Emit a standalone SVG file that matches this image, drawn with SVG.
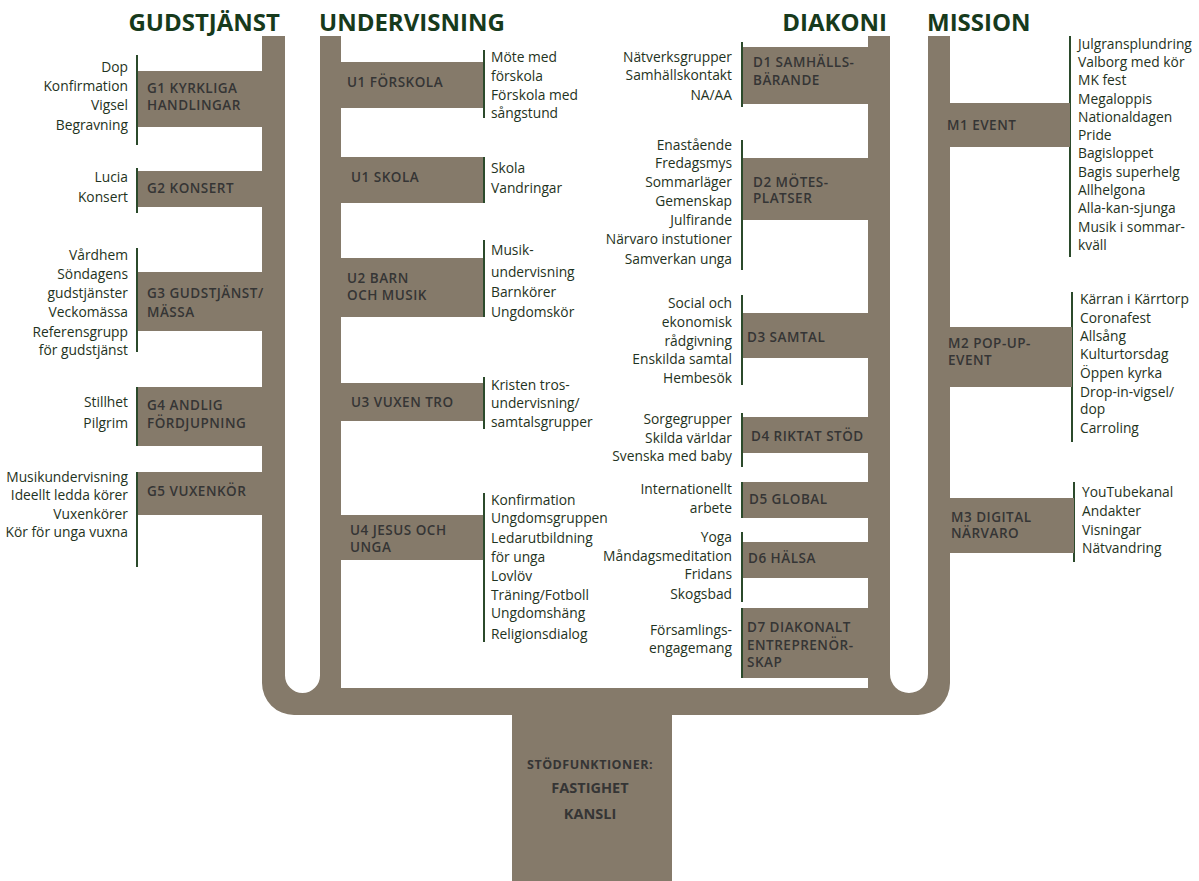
<svg xmlns="http://www.w3.org/2000/svg" width="1199" height="881" viewBox="0 0 1199 881">
<style>
.sh{fill:#857a6a}
.t{font-family:"Open Sans","Noto Sans",sans-serif;font-size:13.8px;fill:#1f3322}
.e{text-anchor:end}
.lb{font-family:"Open Sans","Noto Sans",sans-serif;font-size:13.5px;font-weight:600;fill:#353535;letter-spacing:0.5px}
.h{font-family:"Open Sans","Noto Sans",sans-serif;font-size:24px;font-weight:700;fill:#173a1c}
.ln{stroke:#2b4a2b;stroke-width:2;fill:none}
.st{font-family:"Open Sans","Noto Sans",sans-serif;font-weight:700;fill:#353535;text-anchor:middle}
</style>
<rect width="1199" height="881" fill="#fff"/>
<g id="trunk">
<path class="sh" d="M262,36 H285 V675.5 A17.5,17.5 0 0 0 320,675.5 V36 H341 V688 H868 V36 H890 V674 A19,19 0 0 0 928,674 V36 H950 V683 A32,32 0 0 1 918,715 H294 A32,32 0 0 1 262,683 Z"/>
<rect class="sh" x="512" y="712" width="160" height="169"/>
</g>
<g id="titles">
<text class="h" x="280" y="31" text-anchor="end">GUDSTJÄNST</text>
<text class="h" x="319" y="31">UNDERVISNING</text>
<text class="h" x="887" y="31" text-anchor="end">DIAKONI</text>
<text class="h" x="927" y="31">MISSION</text>
</g>
<g id="support">
<text class="st" x="590" y="769" style="font-size:12.5px;letter-spacing:0.5px">STÖDFUNKTIONER:</text>
<text class="st" x="590" y="793" style="font-size:14.5px">FASTIGHET</text>
<text class="st" x="590" y="819" style="font-size:14.5px">KANSLI</text>
</g>
<g id="connectors">
<line class="ln" x1="137" y1="55" x2="137" y2="145"/>
<line class="ln" x1="137" y1="168" x2="137" y2="213"/>
<line class="ln" x1="137" y1="248" x2="137" y2="352"/>
<line class="ln" x1="137" y1="387" x2="137" y2="446"/>
<line class="ln" x1="137" y1="472" x2="137" y2="567"/>
<line class="ln" x1="484" y1="50" x2="484" y2="118"/>
<line class="ln" x1="484" y1="157" x2="484" y2="203"/>
<line class="ln" x1="484" y1="240" x2="484" y2="317"/>
<line class="ln" x1="484" y1="377" x2="484" y2="429"/>
<line class="ln" x1="484" y1="493" x2="484" y2="642"/>
<line class="ln" x1="742" y1="42" x2="742" y2="107"/>
<line class="ln" x1="742" y1="140" x2="742" y2="270"/>
<line class="ln" x1="742" y1="295" x2="742" y2="385"/>
<line class="ln" x1="742" y1="413" x2="742" y2="467"/>
<line class="ln" x1="742" y1="482" x2="742" y2="518"/>
<line class="ln" x1="742" y1="532" x2="742" y2="602"/>
<line class="ln" x1="742" y1="608" x2="742" y2="678"/>
<line class="ln" x1="1070" y1="36" x2="1070" y2="257"/>
<line class="ln" x1="1072" y1="292" x2="1072" y2="442"/>
<line class="ln" x1="1074" y1="482" x2="1074" y2="562"/>
</g>
<g id="G1">
<rect class="sh" x="138" y="71" width="125" height="56"/>
<text class="lb" x="147" y="93">G1 KYRKLIGA</text>
<text class="lb" x="147" y="110">HANDLINGAR</text>
<text class="t e" x="128" y="72">Dop</text>
<text class="t e" x="128" y="91">Konfirmation</text>
<text class="t e" x="128" y="110">Vigsel</text>
<text class="t e" x="128" y="130">Begravning</text>
</g>
<g id="G2">
<rect class="sh" x="138" y="171" width="125" height="36"/>
<text class="lb" x="147" y="193">G2 KONSERT</text>
<text class="t e" x="128" y="182">Lucia</text>
<text class="t e" x="128" y="202">Konsert</text>
</g>
<g id="G3">
<rect class="sh" x="138" y="272" width="125" height="59"/>
<text class="lb" x="147" y="298">G3 GUDSTJÄNST/</text>
<text class="lb" x="147" y="317">MÄSSA</text>
<text class="t e" x="128" y="260">Vårdhem</text>
<text class="t e" x="128" y="279">Söndagens</text>
<text class="t e" x="128" y="298">gudstjänster</text>
<text class="t e" x="128" y="317">Veckomässa</text>
<text class="t e" x="128" y="337">Referensgrupp</text>
<text class="t e" x="128" y="355">för gudstjänst</text>
</g>
<g id="G4">
<rect class="sh" x="138" y="387" width="125" height="59"/>
<text class="lb" x="147" y="410">G4 ANDLIG</text>
<text class="lb" x="147" y="428">FÖRDJUPNING</text>
<text class="t e" x="128" y="407">Stillhet</text>
<text class="t e" x="128" y="428">Pilgrim</text>
</g>
<g id="G5">
<rect class="sh" x="138" y="472" width="125" height="43"/>
<text class="lb" x="147" y="496">G5 VUXENKÖR</text>
<text class="t e" x="128" y="482">Musikundervisning</text>
<text class="t e" x="128" y="500">Ideellt ledda körer</text>
<text class="t e" x="128" y="519">Vuxenkörer</text>
<text class="t e" x="128" y="537">Kör för unga vuxna</text>
</g>
<g id="U1F">
<rect class="sh" x="340" y="62" width="143" height="46"/>
<text class="lb" x="347" y="87">U1 FÖRSKOLA</text>
<text class="t" x="491" y="62">Möte med</text>
<text class="t" x="491" y="81">förskola</text>
<text class="t" x="491" y="100">Förskola med</text>
<text class="t" x="491" y="118">sångstund</text>
</g>
<g id="U1S">
<rect class="sh" x="340" y="157" width="143" height="46"/>
<text class="lb" x="351" y="182">U1 SKOLA</text>
<text class="t" x="491" y="173">Skola</text>
<text class="t" x="491" y="193">Vandringar</text>
</g>
<g id="U2">
<rect class="sh" x="340" y="258" width="143" height="59"/>
<text class="lb" x="347" y="283">U2 BARN</text>
<text class="lb" x="347" y="300">OCH MUSIK</text>
<text class="t" x="491" y="255">Musik-</text>
<text class="t" x="491" y="277">undervisning</text>
<text class="t" x="491" y="297">Barnkörer</text>
<text class="t" x="491" y="317">Ungdomskör</text>
</g>
<g id="U3">
<rect class="sh" x="340" y="383" width="143" height="38"/>
<text class="lb" x="351" y="407">U3 VUXEN TRO</text>
<text class="t" x="491" y="390">Kristen tros-</text>
<text class="t" x="491" y="408">undervisning/</text>
<text class="t" x="491" y="427">samtalsgrupper</text>
</g>
<g id="U4">
<rect class="sh" x="340" y="515" width="143" height="45"/>
<text class="lb" x="350" y="535">U4 JESUS OCH</text>
<text class="lb" x="350" y="552">UNGA</text>
<text class="t" x="491" y="505">Konfirmation</text>
<text class="t" x="491" y="523">Ungdomsgruppen</text>
<text class="t" x="491" y="543">Ledarutbildning</text>
<text class="t" x="491" y="562">för unga</text>
<text class="t" x="491" y="581">Lovlöv</text>
<text class="t" x="491" y="600">Träning/Fotboll</text>
<text class="t" x="491" y="618">Ungdomshäng</text>
<text class="t" x="491" y="639">Religionsdialog</text>
</g>
<g id="D1">
<rect class="sh" x="743" y="47" width="126" height="57"/>
<text class="lb" x="753" y="67">D1 SAMHÄLLS-</text>
<text class="lb" x="753" y="85">BÄRANDE</text>
<text class="t e" x="732" y="62">Nätverksgrupper</text>
<text class="t e" x="732" y="80">Samhällskontakt</text>
<text class="t e" x="732" y="100">NA/AA</text>
</g>
<g id="D2">
<rect class="sh" x="743" y="158" width="126" height="62"/>
<text class="lb" x="753" y="187">D2 MÖTES-</text>
<text class="lb" x="753" y="203">PLATSER</text>
<text class="t e" x="732" y="150">Enastående</text>
<text class="t e" x="732" y="168">Fredagsmys</text>
<text class="t e" x="732" y="187">Sommarläger</text>
<text class="t e" x="732" y="206">Gemenskap</text>
<text class="t e" x="732" y="225">Julfirande</text>
<text class="t e" x="732" y="244">Närvaro instutioner</text>
<text class="t e" x="732" y="264">Samverkan unga</text>
</g>
<g id="D3">
<rect class="sh" x="743" y="313" width="126" height="45"/>
<text class="lb" x="747" y="342">D3 SAMTAL</text>
<text class="t e" x="732" y="308">Social och</text>
<text class="t e" x="732" y="327">ekonomisk</text>
<text class="t e" x="732" y="346">rådgivning</text>
<text class="t e" x="732" y="364">Enskilda samtal</text>
<text class="t e" x="732" y="383">Hembesök</text>
</g>
<g id="D4">
<rect class="sh" x="743" y="417" width="126" height="36"/>
<text class="lb" x="751" y="441">D4 RIKTAT STÖD</text>
<text class="t e" x="732" y="424">Sorgegrupper</text>
<text class="t e" x="732" y="443">Skilda världar</text>
<text class="t e" x="732" y="461">Svenska med baby</text>
</g>
<g id="D5">
<rect class="sh" x="743" y="482" width="126" height="36"/>
<text class="lb" x="749" y="504">D5 GLOBAL</text>
<text class="t e" x="732" y="494">Internationellt</text>
<text class="t e" x="732" y="513">arbete</text>
</g>
<g id="D6">
<rect class="sh" x="743" y="542" width="126" height="36"/>
<text class="lb" x="748" y="563">D6 HÄLSA</text>
<text class="t e" x="732" y="542">Yoga</text>
<text class="t e" x="732" y="561">Måndagsmeditation</text>
<text class="t e" x="732" y="579">Fridans</text>
<text class="t e" x="732" y="599">Skogsbad</text>
</g>
<g id="D7">
<rect class="sh" x="743" y="608" width="126" height="70"/>
<text class="lb" x="747" y="632">D7 DIAKONALT</text>
<text class="lb" x="747" y="650">ENTREPRENÖR-</text>
<text class="lb" x="747" y="667">SKAP</text>
<text class="t e" x="732" y="635">Församlings-</text>
<text class="t e" x="732" y="653">engagemang</text>
</g>
<g id="M1">
<rect class="sh" x="948" y="103" width="122" height="44"/>
<text class="lb" x="947" y="130">M1 EVENT</text>
<text class="t" x="1078" y="49">Julgransplundring</text>
<text class="t" x="1078" y="67">Valborg med kör</text>
<text class="t" x="1078" y="85">MK fest</text>
<text class="t" x="1078" y="104">Megaloppis</text>
<text class="t" x="1078" y="122">Nationaldagen</text>
<text class="t" x="1078" y="140">Pride</text>
<text class="t" x="1078" y="158">Bagisloppet</text>
<text class="t" x="1078" y="177">Bagis superhelg</text>
<text class="t" x="1078" y="195">Allhelgona</text>
<text class="t" x="1078" y="213">Alla-kan-sjunga</text>
<text class="t" x="1078" y="232">Musik i sommar-</text>
<text class="t" x="1078" y="250">kväll</text>
</g>
<g id="M2">
<rect class="sh" x="948" y="327" width="124" height="60"/>
<text class="lb" x="948" y="348">M2 POP-UP-</text>
<text class="lb" x="948" y="365">EVENT</text>
<text class="t" x="1080" y="304">Kärran i Kärrtorp</text>
<text class="t" x="1080" y="323">Coronafest</text>
<text class="t" x="1080" y="341">Allsång</text>
<text class="t" x="1080" y="359">Kulturtorsdag</text>
<text class="t" x="1080" y="378">Öppen kyrka</text>
<text class="t" x="1080" y="397">Drop-in-vigsel/</text>
<text class="t" x="1080" y="414">dop</text>
<text class="t" x="1080" y="433">Carroling</text>
</g>
<g id="M3">
<rect class="sh" x="948" y="498" width="126" height="55"/>
<text class="lb" x="951" y="522">M3 DIGITAL</text>
<text class="lb" x="951" y="538">NÄRVARO</text>
<text class="t" x="1082" y="497">YouTubekanal</text>
<text class="t" x="1082" y="516">Andakter</text>
<text class="t" x="1082" y="535">Visningar</text>
<text class="t" x="1082" y="553">Nätvandring</text>
</g>
</svg>
